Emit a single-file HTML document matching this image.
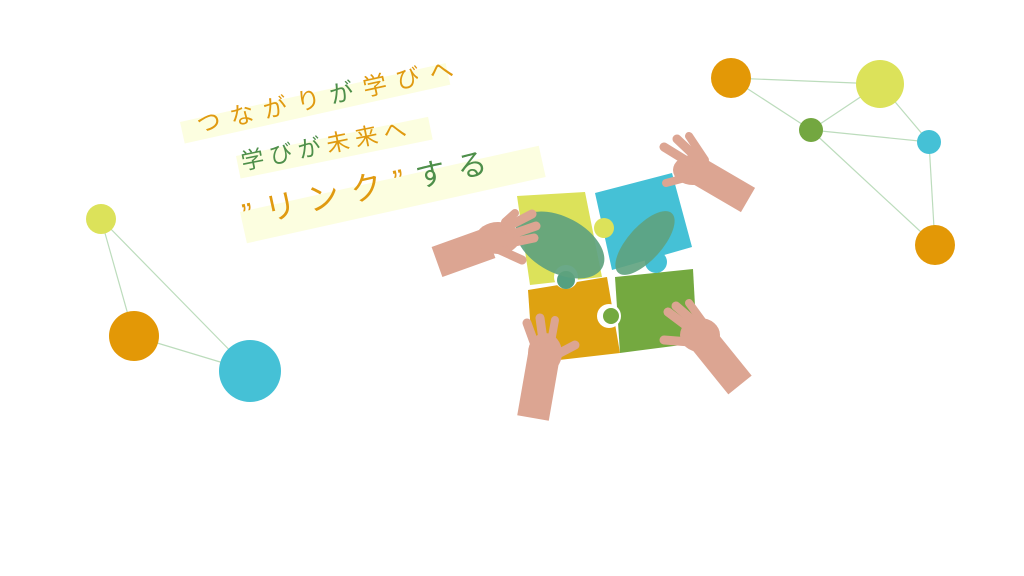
<!DOCTYPE html>
<html><head><meta charset="utf-8"><style>
html,body{margin:0;padding:0;background:#fff;}
body{width:1024px;height:576px;overflow:hidden;position:relative;font-family:"Liberation Sans","Noto Sans CJK JP",sans-serif;}
.band{position:absolute;background:#fcfee0;transform-origin:0 0;white-space:nowrap;}
.o{color:#e09a10}.g{color:#4e8f4a}
</style></head><body>
<svg width="1024" height="576" style="position:absolute;left:0;top:0">
<g stroke="#bcdcbc" stroke-width="1.2">
<line x1="731" y1="78" x2="880" y2="84"/><line x1="731" y1="78" x2="811" y2="130"/>
<line x1="811" y1="130" x2="880" y2="84"/><line x1="811" y1="130" x2="929" y2="142"/>
<line x1="880" y1="84" x2="929" y2="142"/><line x1="811" y1="130" x2="935" y2="245"/>
<line x1="929" y1="142" x2="935" y2="245"/>
<line x1="101" y1="219" x2="134" y2="336"/><line x1="101" y1="219" x2="250" y2="371"/>
<line x1="134" y1="336" x2="250" y2="371"/>
</g>
<circle cx="731" cy="78" r="20" fill="#e39806"/><circle cx="880" cy="84" r="24" fill="#dce25a"/>
<circle cx="811" cy="130" r="12" fill="#73a740"/><circle cx="929" cy="142" r="12" fill="#45c1d6"/>
<circle cx="935" cy="245" r="20" fill="#e39806"/>
<circle cx="101" cy="219" r="15" fill="#dce25a"/><circle cx="134" cy="336" r="25" fill="#e39806"/>
<circle cx="250" cy="371" r="31" fill="#45c1d6"/>
<!-- puzzle -->
<polygon points="517,196 585,192 602,277 530,285" fill="#dce25a"/>
<polygon points="595,193 672,173 692,247 612,270" fill="#45c1d6"/>
<polygon points="528,290 607,277 620,353 533,363" fill="#dea211"/>
<polygon points="615,277 693,269 697,343 620,353" fill="#74a940"/>
<circle cx="604" cy="228" r="10" fill="#dce25a"/>
<circle cx="656" cy="262" r="11" fill="#45c1d6"/>
<circle cx="566" cy="277" r="12" fill="#fff"/><circle cx="566" cy="280" r="9" fill="#55a080"/>
<circle cx="609" cy="316" r="12" fill="#fff"/><circle cx="611" cy="316" r="8" fill="#74a940"/>
<ellipse cx="560" cy="245" rx="48" ry="28" transform="rotate(28 560 245)" fill="#5ea27e" opacity=".92"/>
<ellipse cx="645" cy="243" rx="40" ry="17" transform="rotate(-48 645 243)" fill="#5ea27e" opacity=".9"/>
<!-- hands -->
<g fill="#dca592" stroke="#dca592" stroke-linecap="round">
<line x1="700" y1="172" x2="748" y2="200" stroke-width="28" stroke-linecap="butt"/>
<ellipse cx="693" cy="170" rx="20" ry="15" stroke-width="0"/>
<line x1="690" y1="163" x2="664" y2="147" stroke-width="9"/>
<line x1="697" y1="158" x2="677" y2="139" stroke-width="9"/>
<line x1="705" y1="160" x2="689" y2="136" stroke-width="8"/>
<line x1="685" y1="178" x2="666" y2="183" stroke-width="8"/>
<line x1="490" y1="243" x2="437" y2="262" stroke-width="32" stroke-linecap="butt"/>
<ellipse cx="498" cy="238" rx="22" ry="16" stroke-width="0"/>
<line x1="505" y1="228" x2="532" y2="214" stroke-width="9"/>
<line x1="510" y1="235" x2="536" y2="226" stroke-width="9"/>
<line x1="510" y1="243" x2="534" y2="238" stroke-width="9"/>
<line x1="500" y1="250" x2="522" y2="260" stroke-width="9"/>
<line x1="505" y1="222" x2="515" y2="213" stroke-width="8"/>
<line x1="544" y1="355" x2="533" y2="418" stroke-width="32" stroke-linecap="butt"/>
<ellipse cx="545" cy="353" rx="17" ry="20" stroke-width="0"/>
<line x1="535" y1="345" x2="527" y2="323" stroke-width="9"/>
<line x1="543" y1="340" x2="540" y2="318" stroke-width="9"/>
<line x1="551" y1="342" x2="555" y2="320" stroke-width="8"/>
<line x1="556" y1="355" x2="575" y2="345" stroke-width="9"/>
<line x1="702" y1="338" x2="740" y2="385" stroke-width="30" stroke-linecap="butt"/>
<ellipse cx="700" cy="335" rx="20" ry="17" stroke-width="0"/>
<line x1="692" y1="330" x2="668" y2="312" stroke-width="9"/>
<line x1="698" y1="325" x2="676" y2="306" stroke-width="9"/>
<line x1="705" y1="325" x2="689" y2="303" stroke-width="8"/>
<line x1="690" y1="342" x2="664" y2="340" stroke-width="9"/>
</g>
</svg>
<div class="band" style="left:180px;top:122px;width:272px;height:22px;transform:rotate(-12.5deg);font-size:24px;line-height:16px;padding-left:16px;letter-spacing:10px;box-sizing:border-box;"><span class="o">つながり</span><span class="g">が</span><span class="o">学びへ</span></div>
<div class="band" style="left:236px;top:156px;width:196px;height:23px;transform:rotate(-11.5deg);font-size:23px;line-height:14px;padding-left:4px;letter-spacing:6px;box-sizing:border-box;"><span class="g">学びが</span><span class="o">未来へ</span></div>
<div class="band" style="left:240px;top:212px;width:306px;height:32px;transform:rotate(-12.5deg);font-size:32px;line-height:8px;padding-left:2px;letter-spacing:12px;box-sizing:border-box;"><span class="o">”リンク”</span><span class="g" style="font-size:30px">する</span></div>
</body></html>
